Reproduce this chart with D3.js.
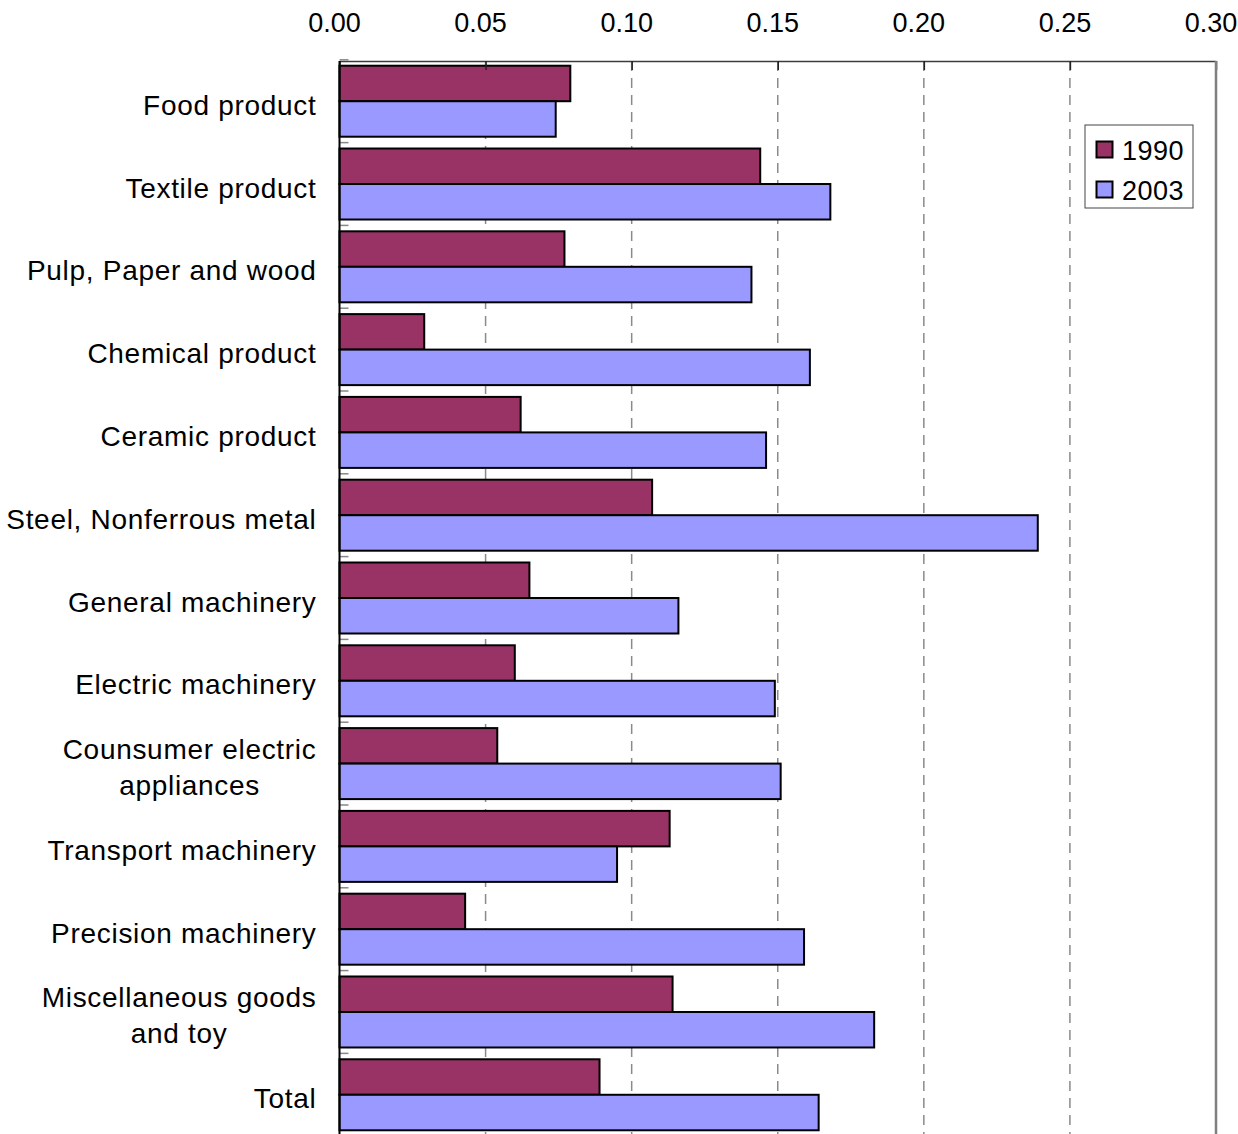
<!DOCTYPE html>
<html>
<head>
<meta charset="utf-8">
<script src="https://cdn.jsdelivr.net/npm/d3@7"></script>
<style>
  html, body { margin: 0; padding: 0; background: #fff; }
  svg { display: block; }
  text { font-family: "Liberation Sans", Arial, Helvetica, sans-serif; fill: #000; }
</style>
</head>
<body>
<script>
// Industry categories (line breaks mark wrapped labels)
const categories = [
  "Food product",
  "Textile product",
  "Pulp, Paper and wood",
  "Chemical product",
  "Ceramic product",
  "Steel, Nonferrous metal",
  "General machinery",
  "Electric machinery",
  "Counsumer electric\nappliances",
  "Transport machinery",
  "Precision machinery",
  "Miscellaneous goods\nand toy",
  "Total"
];

const seriesNames = ["1990", "2003"];
const values1990 = [0.079, 0.144, 0.077, 0.029, 0.062, 0.107, 0.065, 0.060, 0.054, 0.113, 0.043, 0.114, 0.089];
const values2003 = [0.074, 0.168, 0.141, 0.161, 0.146, 0.239, 0.116, 0.149, 0.151, 0.095, 0.159, 0.183, 0.164];
const seriesColors = ["#993366", "#9999FF"];
const xTicks = [0.00, 0.05, 0.10, 0.15, 0.20, 0.25, 0.30];

const W = 1238, H = 1134;
const plotLeft = 339.5, plotRight = 1216, plotTop = 61, plotBottom = 1135;

const svg = d3.select("body").append("svg")
  .attr("width", W).attr("height", H)
  .attr("viewBox", `0 0 ${W} ${H}`);

const x = d3.scaleLinear().domain([0, 0.30]).range([plotLeft, plotRight]);

const y = d3.scaleBand()
  .domain(categories)
  .range([plotTop, plotBottom])
  .paddingInner(0.1425)
  .paddingOuter(0.057);

const sub = d3.scaleBand()
  .domain(seriesNames)
  .range([0, y.bandwidth()]);

// Dashed vertical gridlines
svg.append("g")
  .selectAll("line")
  .data(xTicks.filter(t => t > 0 && t < 0.30))
  .join("line")
  .attr("x1", d => x(d)).attr("x2", d => x(d))
  .attr("y1", plotTop).attr("y2", H)
  .attr("stroke", "#8a8a8a")
  .attr("stroke-width", 1.5)
  .attr("stroke-dasharray", "10,7");

// Bars
const rows = categories.map((c, i) => ({ c, v: [values1990[i], values2003[i]] }));
const groups = svg.append("g")
  .selectAll("g")
  .data(rows)
  .join("g")
  .attr("transform", d => `translate(0,${y(d.c)})`);

groups.selectAll("rect")
  .data(d => d.v.map((v, j) => ({ s: seriesNames[j], v, j })))
  .join("rect")
  .attr("x", x(0))
  .attr("y", d => sub(d.s))
  .attr("width", d => x(d.v) - x(0))
  .attr("height", sub.bandwidth())
  .attr("fill", d => seriesColors[d.j])
  .attr("stroke", "#000")
  .attr("stroke-width", 2);

// Top value axis
const xAxis = d3.axisTop(x)
  .tickValues(xTicks)
  .tickFormat(d3.format(".2f"))
  .tickSizeInner(-9)
  .tickSizeOuter(0)
  .tickPadding(0);

const gx = svg.append("g")
  .attr("transform", `translate(0,${plotTop})`)
  .call(xAxis);
gx.select(".domain").attr("stroke", "#3c3c3c").attr("stroke-width", 1.5);
gx.selectAll(".tick line").attr("stroke", "#222").attr("stroke-width", 1.5);
gx.selectAll(".tick text")
  .attr("y", -29)
  .attr("dx", -5.5)
  .style("font-size", "27px")
  .style("font-family", "'Liberation Sans', Arial, sans-serif")
  .attr("fill", "#000");

// Right frame edge
svg.append("line")
  .attr("x1", plotRight).attr("x2", plotRight)
  .attr("y1", plotTop).attr("y2", H)
  .attr("stroke", "#808080")
  .attr("stroke-width", 2.5);

// Category axis with inward ticks at band boundaries
const boundaries = categories.map(c => y(c) - y.step() * y.paddingInner() / 2);
svg.append("g")
  .selectAll("line")
  .data(boundaries)
  .join("line")
  .attr("x1", plotLeft).attr("x2", plotLeft + 9)
  .attr("y1", d => d).attr("y2", d => d)
  .attr("stroke", "#888")
  .attr("stroke-width", 1.5);

svg.append("line")
  .attr("x1", plotLeft).attr("x2", plotLeft)
  .attr("y1", plotTop).attr("y2", H)
  .attr("stroke", "#000")
  .attr("stroke-width", 2);

// Category labels: multi-line labels form a centred block, right-aligned
const labelRight = 316.5, lineGap = 36;
const labels = svg.append("g");
categories.forEach(c => {
  const lines = c.split("\n");
  const cy = y(c) + y.bandwidth() / 2;
  const g = labels.append("g");
  const texts = lines.map((ln, i) => g.append("text")
    .text(ln)
    .style("font-size", "28px")
    .style("letter-spacing", "0.7px")
    .attr("y", cy + 13.5 + (i - (lines.length - 1) / 2) * lineGap));
  if (lines.length === 1) {
    texts[0].attr("x", labelRight).attr("text-anchor", "end");
  } else {
    const maxW = d3.max(texts, t => t.node().getComputedTextLength());
    const mid = labelRight - maxW / 2;
    texts.forEach(t => t.attr("x", mid).attr("text-anchor", "middle"));
  }
});

// Legend
const legend = svg.append("g").attr("transform", "translate(1085,125)");
legend.append("rect")
  .attr("width", 108).attr("height", 83)
  .attr("fill", "#fff")
  .attr("stroke", "#444")
  .attr("stroke-width", 1);
seriesNames.forEach((s, i) => {
  const row = legend.append("g").attr("transform", `translate(0,${16 + i * 40})`);
  row.append("rect")
    .attr("x", 11.5).attr("y", 0.5)
    .attr("width", 16).attr("height", 16)
    .attr("fill", seriesColors[i])
    .attr("stroke", "#000")
    .attr("stroke-width", 2);
  row.append("text")
    .attr("x", 37).attr("y", 19)
    .style("font-size", "27px")
    .style("letter-spacing", "0.5px")
    .text(s);
});
</script>
</body>
</html>
